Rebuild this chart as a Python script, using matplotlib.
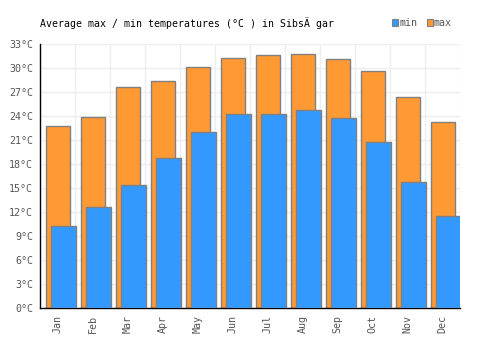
import matplotlib.pyplot as plt
import numpy as np

months = ['Jan', 'Feb', 'Mar', 'Apr', 'May', 'Jun',
          'Jul', 'Aug', 'Sep', 'Oct', 'Nov', 'Dec']
t_max = [22.7, 23.9, 27.6, 28.4, 30.1, 31.3, 31.6, 31.7, 31.1, 29.6, 26.4, 23.25]
t_min = [10.2, 12.6, 15.4, 18.75, 22.0, 24.3, 24.2, 24.7, 23.7, 20.8, 15.75, 11.5]
y_ticks = list(range(0, 34, 3))


def plot_temps():
    fig = plt.figure(figsize=(5, 3.5), dpi=100)
    ax = fig.add_axes([0.08, 0.12, 0.84, 0.754])
    x = np.arange(len(months))

    ax.bar(x + 0.01, t_max, width=0.68, color='#ff9933',
           edgecolor='#808080', linewidth=1, zorder=2)
    ax.bar(x + 0.17, t_min, width=0.70, color='#3399ff',
           edgecolor='#808080', linewidth=1, zorder=3)

    ax.set_xlim(-0.5, len(months) - 0.5)
    ax.set_ylim(0, 33)
    ax.set_yticks(y_ticks)
    ax.set_yticklabels([f'{t}°C' for t in y_ticks],
                       family='DejaVu Sans Mono', fontsize=7.2, color='#555555')
    ax.set_xticks(x)
    ax.set_xticklabels(months, rotation=90, family='DejaVu Sans Mono',
                       fontsize=7.2, color='#555555')
    ax.set_xticks(np.arange(-0.5, len(months)), minor=True)
    ax.tick_params(which='both', length=0, pad=5)
    ax.grid(True, axis='y', color='#eeeeee', linewidth=1, zorder=0)
    ax.grid(True, axis='x', which='minor', color='#eeeeee', linewidth=1, zorder=0)
    ax.grid(False, axis='x', which='major')
    ax.set_axisbelow(True)
    for side in ['top', 'right']:
        ax.spines[side].set_visible(False)
    for side in ['left', 'bottom']:
        ax.spines[side].set_color('black')
        ax.spines[side].set_linewidth(1)

    fig.text(0.08, 0.935, 'Average max / min temperatures (°C ) in SibsÄ gar',
             family='DejaVu Sans Mono', fontsize=7.1, color='black', va='center')

    fig.patches.append(plt.Rectangle((0.783, 0.926), 0.013, 0.019, color='#3399ff',
                                     ec='#808080', lw=0.8, transform=fig.transFigure))
    fig.text(0.8, 0.935, 'min', family='DejaVu Sans Mono', fontsize=7.2,
             color='#555555', va='center')
    fig.patches.append(plt.Rectangle((0.853, 0.926), 0.013, 0.019, color='#ff9933',
                                     ec='#808080', lw=0.8, transform=fig.transFigure))
    fig.text(0.868, 0.935, 'max', family='DejaVu Sans Mono', fontsize=7.2,
             color='#555555', va='center')

    fig.savefig('out.png', dpi=100)


if __name__ == '__main__':
    plot_temps()
